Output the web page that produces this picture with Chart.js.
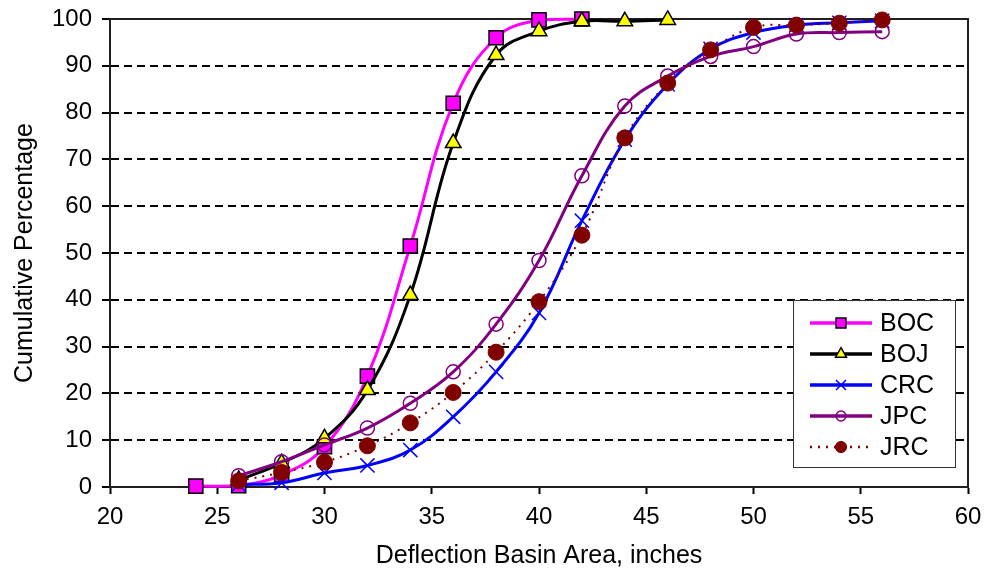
<!DOCTYPE html>
<html lang="en">
<head>
    <meta charset="UTF-8">
    <title>Cumulative Percentage vs Deflection Basin Area</title>
    <script src="https://cdn.jsdelivr.net/npm/chart.js@4.4.1/dist/chart.umd.min.js"></script>
    <style>
        body { margin: 0; background: #fff; }
        #wrap { width: 989px; height: 569px; }
    </style>
</head>
<body>
    <div id="wrap"><canvas id="cdf" width="989" height="569"></canvas></div>

    <script>
        // x values (inches)
        const basinArea = [24, 26, 28, 30, 32, 34, 36, 38, 40, 42, 44, 46, 48, 50, 52, 54, 56];

        // cumulative percentages (null = no point)
        const boc = [0.2, 0.3, 2.6, 8.6, 23.7, 51.5, 82.0, 96.0, 99.8, 100, null, null, null, null, null, null, null];
        const boj = [null, 1.5, 5.1, 10.4, 20.7, 41.0, 73.5, 92.3, 97.4, 99.5, 99.5, 99.8, null, null, null, null, null];
        const crc = [null, 0.5, 0.9, 3.0, 4.6, 7.9, 15.0, 24.6, 37.2, 56.9, 74.2, 86.0, 93.6, 97.1, 98.7, 99.2, 99.6];
        const jpc = [null, 2.4, 5.4, 9.0, 12.6, 17.9, 24.6, 34.8, 48.4, 66.5, 81.4, 87.8, 92.0, 94.1, 96.8, 97.1, 97.3];
        const jrc = [null, 1.3, 3.1, 5.3, 8.8, 13.7, 20.2, 28.8, 39.6, 53.8, 74.6, 86.3, 93.4, 98.2, 98.7, 99.1, 99.8];

        const yTicks = [0, 10, 20, 30, 40, 50, 60, 70, 80, 90, 100];

        const FONT = "'Liberation Sans', Arial, sans-serif";

        function toPoints(ys) {
            return basinArea.map((x, i) => ({ x: x, y: ys[i] })).filter(p => p.y !== null);
        }

        const datasets = [
            { label: 'BOC', data: toPoints(boc), borderColor: '#ff00ff', backgroundColor: '#ff00ff',
              pointStyle: 'rect', pointRadius: 10, pointBorderColor: '#000', pointBackgroundColor: '#ff00ff',
              pointBorderWidth: 1.5, borderWidth: 3, order: 5 },
            { label: 'BOJ', data: toPoints(boj), borderColor: '#000000', backgroundColor: '#ffff00',
              pointStyle: 'triangle', pointRadius: 9, pointBorderColor: '#000', pointBackgroundColor: '#ffff00',
              pointBorderWidth: 1.5, borderWidth: 3, order: 4 },
            { label: 'CRC', data: toPoints(crc), borderColor: '#0000ff', backgroundColor: '#0000ff',
              pointStyle: 'crossRot', pointRadius: 10, pointBorderColor: '#0000ff',
              pointBorderWidth: 1.5, borderWidth: 3, order: 3 },
            { label: 'JPC', data: toPoints(jpc), borderColor: '#800080', backgroundColor: 'rgba(255,255,255,0)',
              pointStyle: 'circle', pointRadius: 7, pointBorderColor: '#800080', pointBackgroundColor: 'rgba(255,255,255,0)',
              pointBorderWidth: 1.5, borderWidth: 3, order: 2 },
            { label: 'JRC', data: toPoints(jrc), borderColor: '#800000', backgroundColor: '#800000',
              pointStyle: 'circle', pointRadius: 8, pointBorderColor: '#800000', pointBackgroundColor: '#800000',
              pointBorderWidth: 1, borderWidth: 2, borderDash: [2, 6], order: 1 }
        ];

        // top/right frame of the plot area
        const frame = {
            id: 'frame',
            beforeDatasetsDraw(chart) {
                const { ctx, chartArea: a } = chart;
                ctx.save();
                ctx.strokeStyle = '#231f20';
                ctx.lineWidth = 2;
                ctx.beginPath();
                ctx.moveTo(a.left, a.top);
                ctx.lineTo(a.right, a.top);
                ctx.lineTo(a.right, a.bottom);
                ctx.stroke();
                ctx.restore();
            }
        };

        // boxed legend with line + marker samples
        const boxLegend = {
            id: 'boxLegend',
            afterDraw(chart) {
                const ctx = chart.ctx;
                const bx = 793, by = 300, bw = 162, bh = 167;
                ctx.save();
                ctx.fillStyle = '#fff';
                ctx.fillRect(bx, by, bw, bh);
                ctx.strokeStyle = '#333';
                ctx.lineWidth = 1;
                ctx.strokeRect(bx + 0.5, by + 0.5, bw, bh);
                ctx.font = '25px ' + FONT;
                ctx.textBaseline = 'middle';
                chart.data.datasets.forEach((ds, i) => {
                    const y = by + 23 + i * 31;
                    ctx.save();
                    ctx.strokeStyle = ds.borderColor;
                    ctx.lineWidth = ds.borderWidth + 0.5;
                    ctx.setLineDash(ds.borderDash || []);
                    ctx.beginPath();
                    ctx.moveTo(810, y);
                    ctx.lineTo(872, y);
                    ctx.stroke();
                    ctx.setLineDash([]);
                    ctx.fillStyle = ds.pointBackgroundColor || ds.backgroundColor;
                    ctx.strokeStyle = ds.pointBorderColor;
                    ctx.lineWidth = ds.pointBorderWidth;
                    Chart.helpers.drawPoint(ctx, {
                        pointStyle: ds.pointStyle,
                        radius: ds.pointRadius * 0.7,
                        rotation: 0,
                        borderWidth: ds.pointBorderWidth
                    }, 841, y);
                    ctx.restore();
                    ctx.fillStyle = '#000';
                    ctx.fillText(ds.label, 880, y + 1);
                });
                ctx.restore();
            }
        };

        new Chart(document.getElementById('cdf'), {
            type: 'line',
            data: { datasets: datasets },
            plugins: [frame, boxLegend],
            options: {
                responsive: false,
                animation: false,
                layout: { padding: { left: 10, right: 21, top: 19, bottom: 0 } },
                elements: { line: { tension: 0.4 } },
                datasets: { line: { clip: false, fill: false } },
                plugins: {
                    legend: { display: false },
                    tooltip: { enabled: false }
                },
                scales: {
                    x: {
                        type: 'linear',
                        min: 20,
                        max: 60,
                        afterFit(scale) {
                            scale.height = 82;
                            scale.paddingLeft = 0;
                            scale.paddingRight = 0;
                        },
                        ticks: { stepSize: 5, color: '#000', font: { family: FONT, size: 24 }, padding: 9 },
                        grid: { drawOnChartArea: false, drawTicks: true, tickLength: 7, tickColor: '#000', tickWidth: 2 },
                        border: { display: true, color: '#231f20', width: 2 },
                        title: { display: true, text: 'Deflection Basin Area, inches', color: '#000',
                                 font: { family: FONT, size: 25 }, padding: { top: 2, bottom: -2 } }
                    },
                    y: {
                        min: 0,
                        max: 100,
                        afterFit(scale) {
                            scale.width = 100;
                            scale.paddingTop = 0;
                            scale.paddingBottom = 0;
                        },
                        afterBuildTicks(scale) { scale.ticks = yTicks.map(v => ({ value: v })); },
                        ticks: { color: '#000', font: { family: FONT, size: 24 }, padding: 10 },
                        grid: {
                            drawTicks: true,
                            tickLength: 8,
                            tickColor: '#000',
                            tickWidth: 2,
                            lineWidth: 2,
                            color: ctx => (ctx.tick && ctx.tick.value > 0 && ctx.tick.value < 100) ? '#000' : 'rgba(0,0,0,0)'
                        },
                        border: { display: true, color: '#231f20', width: 2, dash: [8, 5] },
                        title: { display: true, text: 'Cumulative Percentage', color: '#000',
                                 font: { family: FONT, size: 25 }, padding: { top: 0, bottom: 0 } }
                    }
                }
            }
        });
    </script>
</body>
</html>
